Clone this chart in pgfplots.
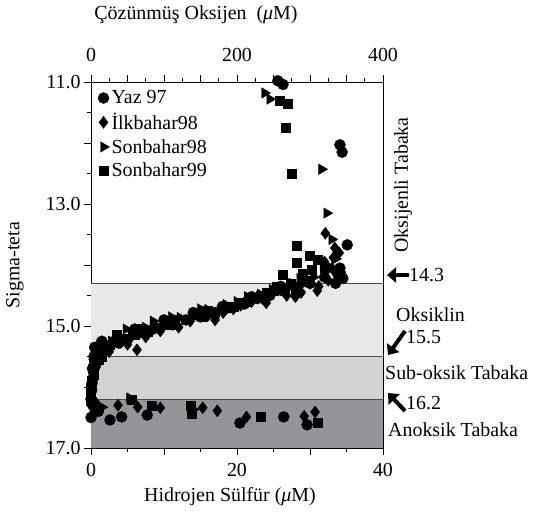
\documentclass[border=0pt]{standalone}
\usepackage{fontspec}
\setmainfont{Liberation Serif}
\usepackage{pgfplots}
\pgfplotsset{compat=1.18}
\usetikzlibrary{arrows.meta}
\newcommand\fs{\fontsize{20}{24}\selectfont}
\definecolor{bandA}{HTML}{E7E8EA}
\definecolor{bandB}{HTML}{D2D3D5}
\definecolor{bandC}{HTML}{939598}
\definecolor{bandline}{HTML}{4A4A4C}

% O2 data (top axis, uM)
\pgfplotstableread{
x y
256 10.98
263 11.04
341 12.03
344 12.15
351 13.67
341 14.05
345 14.22
338 14.15
335 14.30
320 14.20
300 14.30
290 14.28
280 14.38
262 14.42
260 14.35
245 14.50
228 14.55
220 14.52
210 14.64
190 14.70
180 14.68
170 14.78
150 14.85
140 14.78
130 14.90
112 14.98
100 14.90
85 15.05
72 15.12
60 15.05
45 15.22
38 15.28
20 15.32
15 15.25
14 15.42
7 15.40
5 15.35
4 15.50
6 15.65
2 15.70
3 15.85
1 15.95
1 16.05
0 16.20
}\yazO
\pgfplotstableread{
x y
321 13.48
334 13.72
340 13.80
332 13.88
320 13.95
330 14.05
343 14.12
325 14.25
312 14.35
310 14.42
300 14.30
288 14.45
280 14.52
268 14.50
240 14.62
235 14.55
220 14.60
205 14.66
195 14.72
181 14.78
170 14.90
160 14.83
150 14.82
136 14.92
120 15.02
115 14.95
95 15.08
75 15.18
63 15.39
55 15.18
50 15.30
40 15.27
30 15.25
25 15.42
20 15.38
10 15.40
8 15.60
3 15.55
4 15.78
1 15.85
2 15.95
0 16.12
0 16.30
}\ilkO
\pgfplotstableread{
x y
238 11.18
245 11.28
316 12.43
323 13.15
330 13.58
335 13.90
318 14.00
305 14.20
286 14.22
275 14.30
262 14.35
260 14.42
248 14.40
232 14.48
225 14.55
214 14.52
200 14.60
185 14.65
160 14.73
150 14.72
140 14.82
122 14.86
110 14.85
100 14.95
90 15.00
85 14.92
74 15.02
65 15.08
55 15.12
48 15.05
37 15.20
28 15.25
19 15.28
12 15.30
10 15.45
6 15.40
5 15.67
2 15.60
1 15.93
0 16.00
}\sonaO
\pgfplotstableread{
x y
259 11.30
270 11.36
267 11.75
275 12.50
282 13.69
300 13.85
282 13.97
310 13.92
320 14.05
303 14.08
290 14.15
262 14.16
296 14.25
280 14.45
273 14.30
265 14.38
255 14.35
250 14.42
240 14.45
232 14.50
215 14.60
205 14.62
195 14.69
180 14.72
170 14.78
160 14.75
153 14.85
140 14.82
130 14.90
115 14.90
105 14.98
90 15.02
77 15.10
70 15.05
60 15.15
45 15.20
35 15.15
25 15.30
15 15.50
10 15.55
8 15.45
2 15.70
4 15.80
1 15.90
0 16.05
0 16.20
}\sonbO
% H2S data (bottom axis, uM)
\pgfplotstableread{
x y
0.3 16.30
0.0 16.50
1.0 16.40
2.6 16.54
4.2 16.49
7.7 16.46
20.4 16.59
26.4 16.49
29.6 16.62
}\yazH
\pgfplotstableread{
x y
0.1 16.46
0.2 16.20
0.6 16.25
3.7 16.30
6.4 16.33
9.5 16.34
15.3 16.34
17.3 16.39
21.3 16.49
29.2 16.48
30.7 16.41
}\ilkH
\pgfplotstableread{
x y
0.5 16.38
1.5 16.33
5.3 16.18
14.0 16.37
}\sonaH
\pgfplotstableread{
x y
5.6 16.21
8.3 16.30
13.8 16.43
13.6 16.30
23.2 16.49
31.1 16.59
}\sonbH

\pgfplotsset{
  common/.style={
    scale only axis, width=292bp, height=366bp,
    at={(0,0)}, anchor=south west,
    ymin=11, ymax=17, y dir=reverse,
    tick align=outside,
    major tick length=7bp, minor tick length=4bp,
    tick style={black, line width=0.6bp},
    every tick label/.append style={font=\fs},
    axis line style={line width=0.8bp},
  },
  cmark/.style={only marks, mark=*, mark size=5.5bp, black},
  dmark/.style={only marks, mark=diamond*, mark size=6bp, black},
  tmark/.style={only marks, mark=triangle*, mark size=6bp, black, mark options={rotate=-90}},
  smark/.style={only marks, mark=square*, mark size=4.5bp, black},
}

\begin{document}
\begin{tikzpicture}[font=\fs]
\begin{axis}[common,
  xmin=0, xmax=40,
  xtick={0,10,20,30,40}, xticklabels={0,,20,,40},
  minor xtick={5,15,25,35},
  ytick={11,12,13,14,15,16,17}, yticklabels={11.0,,13.0,,15.0,,17.0},
  minor ytick={11.5,12.5,13.5,14.5,15.5,16.5},
  xtick pos=bottom, ytick pos=left,
  xticklabel style={yshift=-5bp},
  clip=true,
]
\fill[bandA] (axis cs:0,14.3) rectangle (axis cs:40,15.5);
\fill[bandB] (axis cs:0,15.5) rectangle (axis cs:40,16.2);
\fill[bandC] (axis cs:0,16.2) rectangle (axis cs:40,17);
\draw[bandline, line width=1.2bp] (axis cs:0,14.3) -- (axis cs:40,14.3);
\draw[bandline, line width=1.2bp] (axis cs:0,15.5) -- (axis cs:40,15.5);
\draw[bandline, line width=1.2bp] (axis cs:0,16.2) -- (axis cs:40,16.2);
\addplot[cmark] table {\yazH};
\addplot[dmark] table {\ilkH};
\addplot[tmark] table {\sonaH};
\addplot[smark] table {\sonbH};
\end{axis}
\begin{axis}[common,
  xmin=0, xmax=400,
  axis x line*=top, hide y axis,
  xtick={0,50,...,400}, xticklabels={0,,,,200,,,,400},
  minor xtick={25,75,...,375},
  xticklabel style={yshift=10bp},
  clip=false,
  legend style={at={(axis description cs:0.02,0.985)}, anchor=north west,
    draw=none, fill=none, font=\fs, inner sep=1bp,
    row sep=4bp},
  legend cell align=left,
]
\addplot[cmark] table {\yazO};
\addlegendentry{Yaz 97}
\addplot[dmark] table {\ilkO};
\addlegendentry{İlkbahar98}
\addplot[tmark] table {\sonaO};
\addlegendentry{Sonbahar98}
\addplot[smark] table {\sonbO};
\addlegendentry{Sonbahar99}
\end{axis}
% labels
\node at (105bp,433bp) {Çözünmüş Oksijen\ \ (\textit{μ}M)};
\node[rotate=90] at (-76bp,183bp) {Sigma-teta};
\node at (139bp,-49bp) {Hidrojen Sülfür (\textit{μ}M)};
\node[rotate=90] at (312bp,263bp) {Oksijenli Tabaka};
\draw[line width=4bp, -{Triangle[length=9bp,width=15bp]}] (318bp,173bp) -- (296bp,173bp);
\node[anchor=west, inner sep=0] at (318bp,173bp) {14.3};
\node[anchor=west, inner sep=0] at (305bp,133bp) {Oksiklin};
\draw[line width=4bp, -{Triangle[length=9bp,width=15bp]}] (314bp,117bp) -- (297bp,93bp);
\node[anchor=west, inner sep=0] at (315bp,111bp) {15.5};
\node[anchor=west, inner sep=0] at (294bp,75bp) {Sub-oksik Tabaka};
\draw[line width=4bp, -{Triangle[length=9bp,width=15bp]}] (314bp,37bp) -- (297bp,55bp);
\node[anchor=west, inner sep=0] at (315bp,45bp) {16.2};
\node[anchor=west, inner sep=0] at (297bp,18bp) {Anoksik Tabaka};
\path[use as bounding box] (-91bp,-69bp) rectangle (462bp,448bp);
\end{tikzpicture}
\end{document}
